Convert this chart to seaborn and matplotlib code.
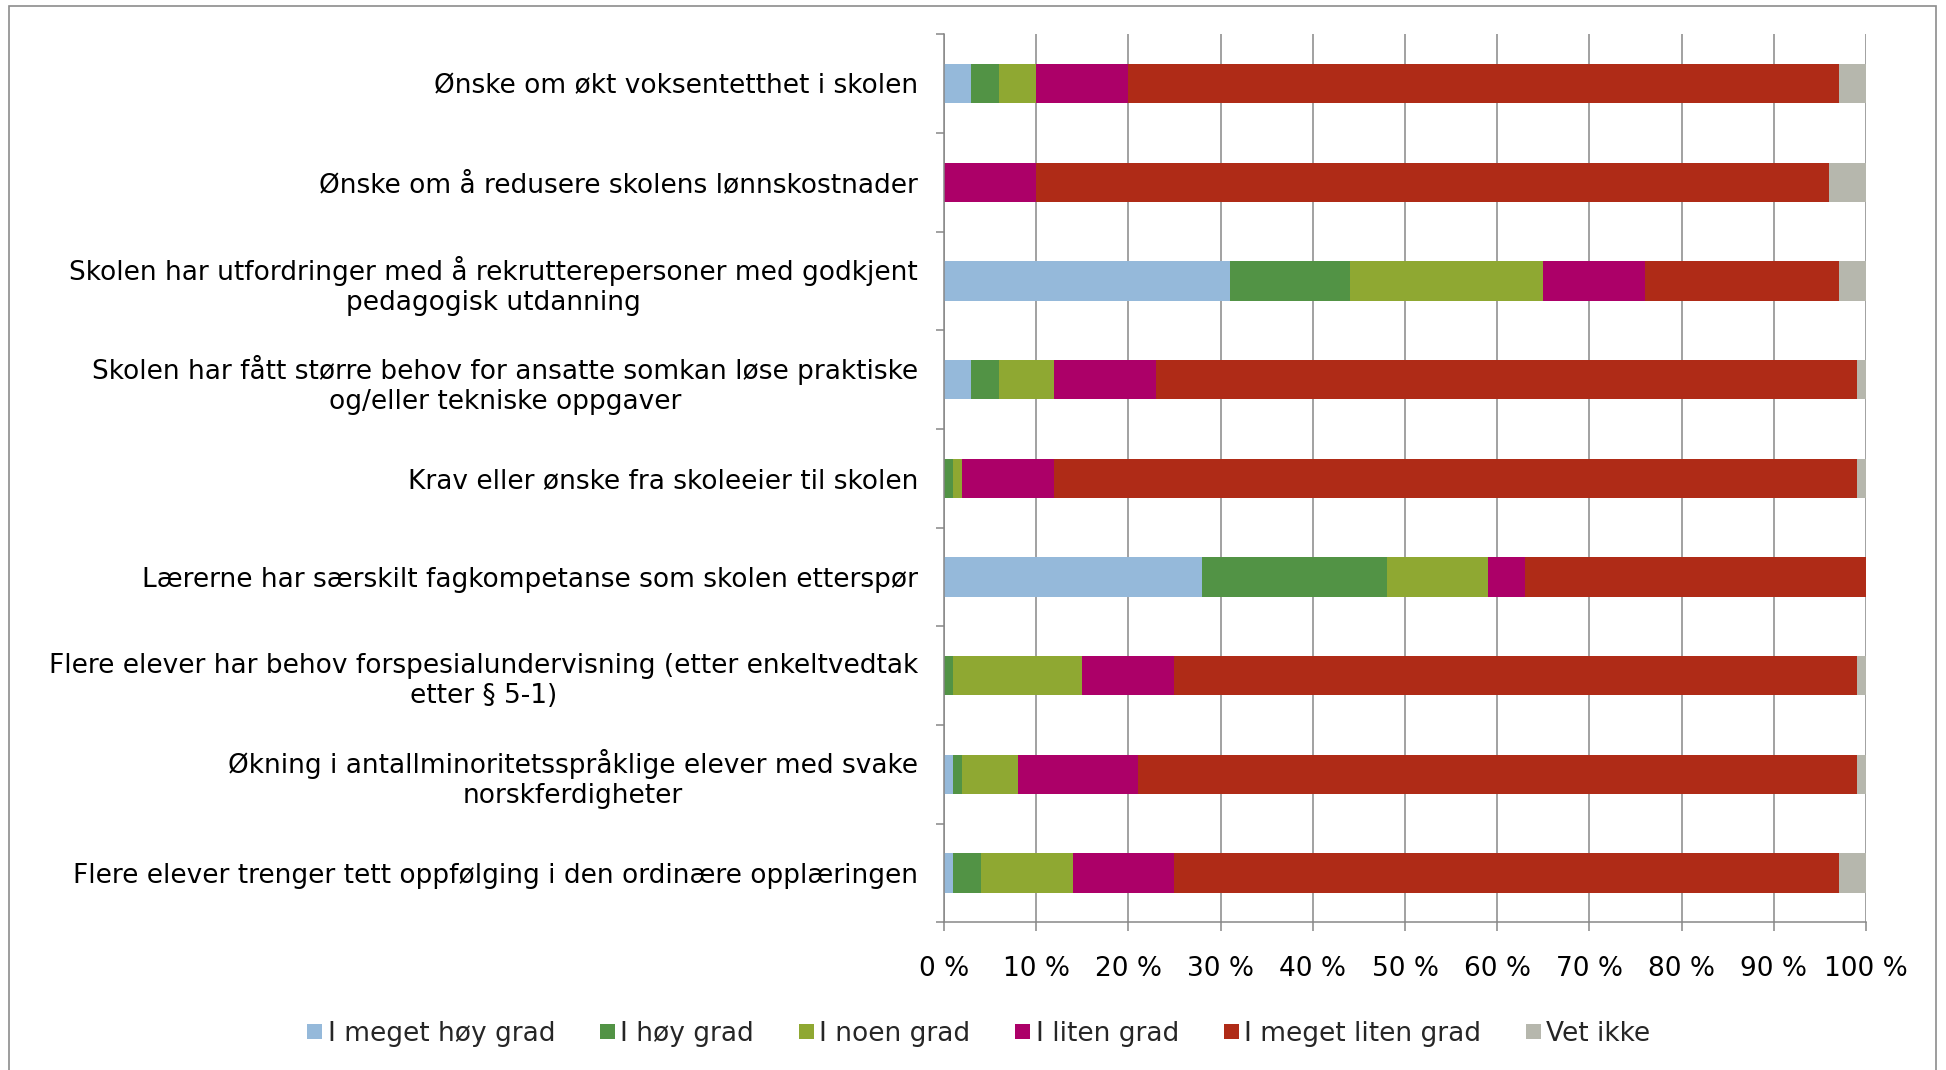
import numpy as np
import pandas as pd
import matplotlib.pyplot as plt
import seaborn as sns
from matplotlib.patches import Patch, Rectangle

utsagn = [
    "Ønske om økt voksentetthet i skolen",
    "Ønske om å redusere skolens lønnskostnader",
    "Skolen har utfordringer med å rekrutterepersoner med godkjent\npedagogisk utdanning",
    "Skolen har fått større behov for ansatte somkan løse praktiske\nog/eller tekniske oppgaver",
    "Krav eller ønske fra skoleeier til skolen",
    "Lærerne har særskilt fagkompetanse som skolen etterspør",
    "Flere elever har behov forspesialundervisning (etter enkeltvedtak\netter § 5-1)",
    "Økning i antallminoritetsspråklige elever med svake\nnorskferdigheter",
    "Flere elever trenger tett oppfølging i den ordinære opplæringen",
]
svar = ["I meget høy grad", "I høy grad", "I noen grad", "I liten grad",
        "I meget liten grad", "Vet ikke"]

meget_hoy = [3, 0, 31, 3, 0, 28, 0, 1, 1]
hoy = [3, 0, 13, 3, 1, 20, 1, 1, 3]
noen = [4, 0, 21, 6, 1, 11, 14, 6, 10]
liten = [10, 10, 11, 11, 10, 4, 10, 13, 11]
meget_liten = [77, 86, 21, 76, 87, 37, 74, 78, 72]
vet_ikke = [3, 4, 3, 1, 1, 0, 1, 1, 3]

farger = ["#95b9da", "#529345", "#8fa832", "#ac0068", "#af2b17", "#b6b7ad"]
graa = "#878787"

df = pd.DataFrame({"utsagn": utsagn, svar[0]: meget_hoy, svar[1]: hoy,
                   svar[2]: noen, svar[3]: liten, svar[4]: meget_liten,
                   svar[5]: vet_ikke})
kum = df[svar].cumsum(axis=1)

sns.set_theme(style="white")
plt.rcParams['font.family'] = ['DejaVu Sans']
fs = 19

fig = plt.figure(figsize=(19.46, 10.7), dpi=100)
ax = fig.add_axes([0.485, 0.138, 0.474, 0.830])

# stablede søyler: tegn kumulative summer bakfra
for s, c in reversed(list(zip(svar, farger))):
    sns.barplot(x=kum[s], y=df["utsagn"], color=c, orient="h", width=0.40,
                linewidth=0, saturation=1, ax=ax)

ax.set_xlim(0, 100)
ax.set_ylim(8.5, -0.5)
ax.set_xlabel("")
ax.set_ylabel("")
ax.set_xticks(range(0, 101, 10))
ax.set_xticklabels([f"{v} %" for v in range(0, 101, 10)], fontsize=fs)
plt.setp(ax.get_yticklabels(), fontsize=fs, ma="center", color="black")
plt.setp(ax.get_xticklabels(), color="black")

ax.xaxis.grid(True, color=graa, lw=1.1)
ax.set_axisbelow(True)
for side in ["top", "right"]:
    ax.spines[side].set_visible(False)
for side in ["left", "bottom"]:
    ax.spines[side].set_color(graa)
    ax.spines[side].set_linewidth(1.1)

ax.set_yticks(np.arange(-0.5, 9, 1), minor=True)
ax.tick_params(axis="y", which="major", length=0, pad=18.5)
ax.tick_params(axis="y", which="minor", left=True, length=6, width=1.1,
               color=graa, direction="out")
ax.tick_params(axis="x", which="major", bottom=True, length=6.5, width=1.1,
               color=graa, direction="out", pad=18)

handles = [Patch(facecolor=c, edgecolor="none", label=s) for s, c in zip(svar, farger)]
fig.legend(handles=handles, loc="center", bbox_to_anchor=(0.503, 1 - 1034 / 1070),
           ncol=6, frameon=False, fontsize=fs, handlelength=0.57, handleheight=0.5,
           handletextpad=0.2, columnspacing=1.7)

fig.patches.append(Rectangle((0.0046, -0.02), 0.9904, 1.0146, transform=fig.transFigure,
                             fill=False, edgecolor="#8c8c8c", lw=1.2))

fig.savefig("out.png", dpi=100)
